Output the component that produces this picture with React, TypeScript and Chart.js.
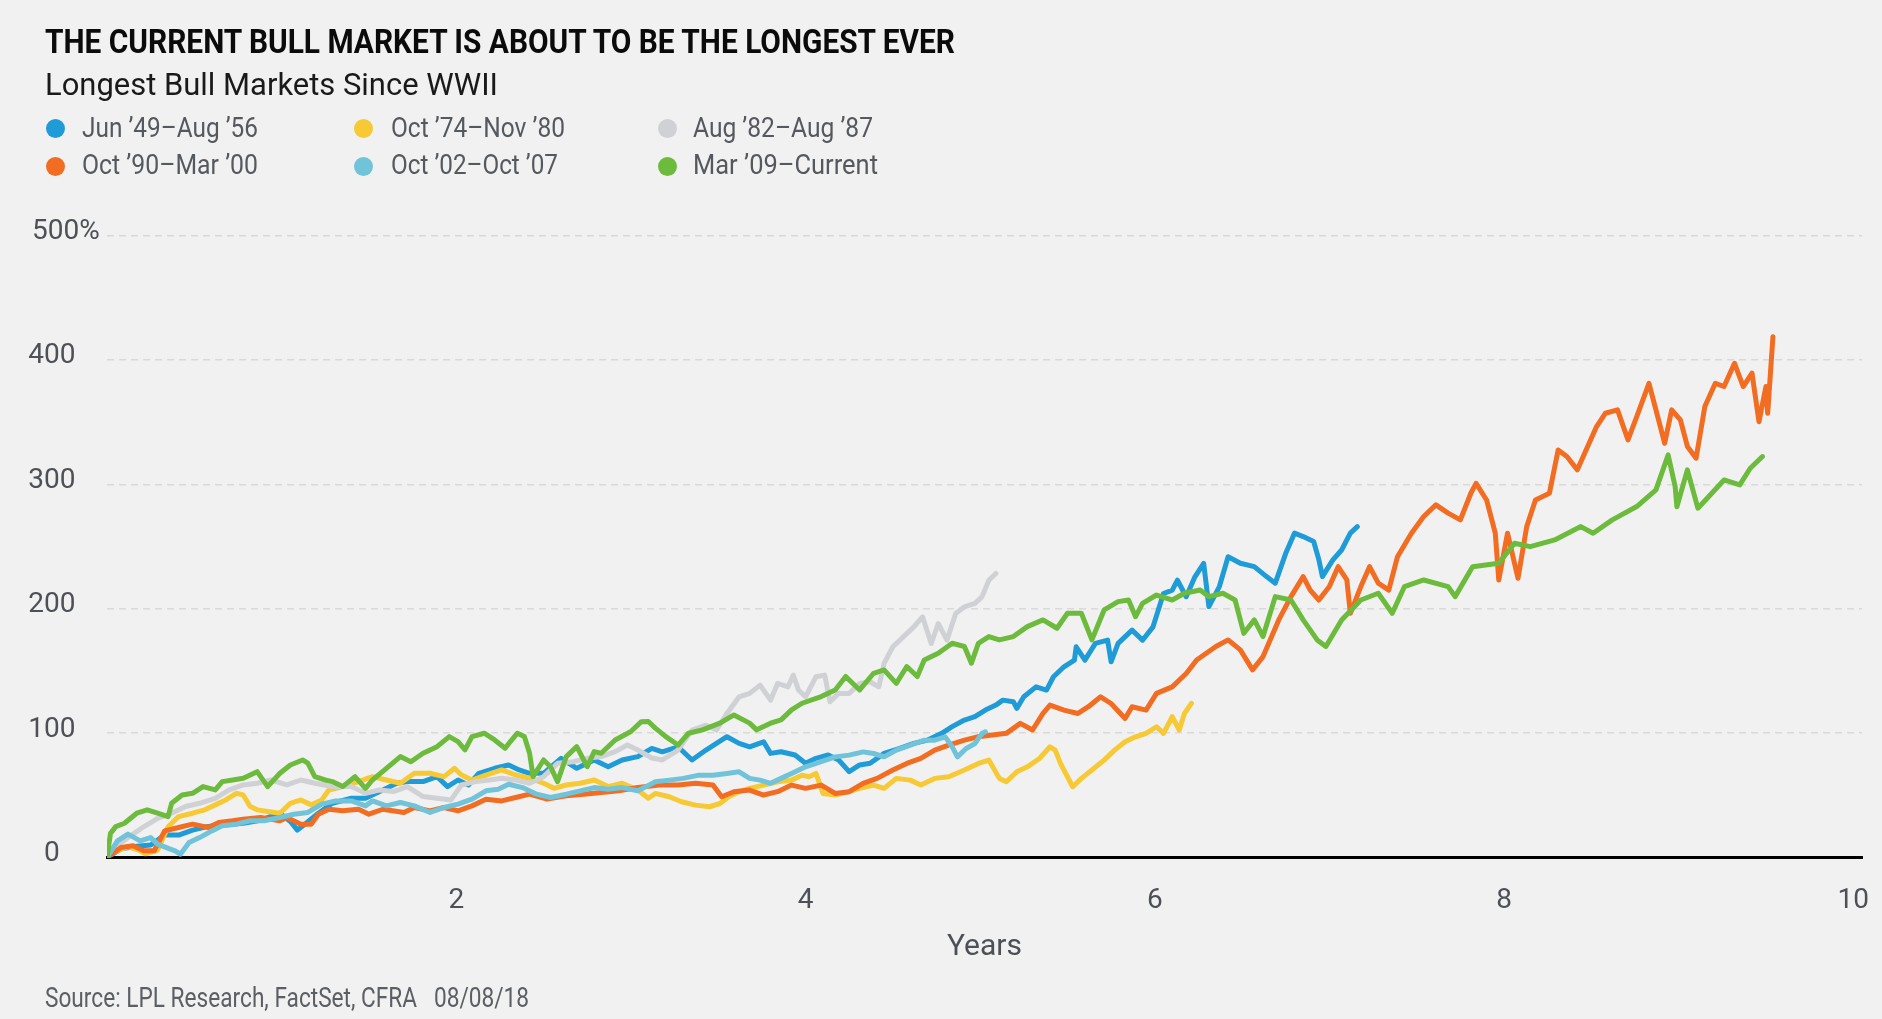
import React, { useEffect, useLayoutEffect, useRef } from 'react';
import { Chart, registerables } from 'chart.js';

Chart.register(...registerables);

// ---------------- DATA ----------------
const seriesNames = [
  'Jun ’49–Aug ’56',
  'Oct ’74–Nov ’80',
  'Aug ’82–Aug ’87',
  'Oct ’90–Mar ’00',
  'Oct ’02–Oct ’07',
  'Mar ’09–Current',
];

// [years since start, cumulative gain %]
const jun49Aug56: [number, number][] = [
  [0, 0], [0.08, 7], [0.17, 9], [0.25, 10], [0.33, 18], [0.41, 18], [0.49, 22], [0.58, 25], [0.66, 26],
  [0.78, 27.5], [0.88, 30], [0.99, 35.6], [1.05, 29], [1.09, 22], [1.14, 27.5], [1.21, 35.6], [1.29, 43.6],
  [1.4, 47.6], [1.48, 47.6], [1.58, 54.3], [1.66, 59.7], [1.72, 61], [1.81, 61], [1.89, 65], [1.95, 57],
  [2.01, 62.3], [2.07, 58.3], [2.13, 67.7], [2.22, 71.7], [2.3, 74.4], [2.36, 70.4], [2.42, 67.7], [2.5, 67.7],
  [2.6, 79.7], [2.69, 71.7], [2.79, 78.4], [2.87, 73], [2.95, 78.4], [3.04, 81.1], [3.12, 87.7], [3.18, 85],
  [3.27, 89], [3.35, 78.4], [3.43, 86.4], [3.49, 91.7], [3.55, 97.1], [3.62, 91.7], [3.68, 89], [3.76, 93],
  [3.8, 83.7], [3.86, 85], [3.94, 82.4], [4.0, 75.7], [4.06, 79.7], [4.13, 82.4], [4.19, 78.4], [4.25, 69],
  [4.31, 74.4], [4.37, 75.7], [4.45, 83.7], [4.54, 87.7], [4.62, 91.7], [4.7, 94.4], [4.78, 99.8], [4.84, 105.2],
  [4.91, 110.5], [4.97, 113.2], [5.03, 118.5], [5.09, 122.5], [5.13, 126.5], [5.19, 125.2], [5.21, 119.9],
  [5.25, 129.2], [5.32, 137.2], [5.38, 134.6], [5.42, 145.3], [5.48, 153.3], [5.54, 158.7], [5.55, 169.4],
  [5.6, 158.7], [5.66, 172.1], [5.73, 174.7], [5.75, 157.3], [5.79, 172.1], [5.87, 182.8], [5.93, 174.7],
  [5.99, 185.4], [6.05, 212.2], [6.1, 214.9], [6.13, 222.9], [6.18, 209.6], [6.23, 225.6], [6.28, 236.5],
  [6.31, 201.7], [6.37, 217.8], [6.42, 241.8], [6.49, 236.5], [6.57, 233.8], [6.64, 225.8], [6.69, 220.5],
  [6.75, 244.5], [6.8, 260.7], [6.85, 258], [6.91, 254], [6.94, 239.2], [6.96, 225.8], [7.02, 239.2],
  [7.07, 247.2], [7.12, 260.7], [7.16, 266],
];

const oct74Nov80: [number, number][] = [
  [0, 0], [0.02, 3], [0.12, 8.7], [0.18, 6], [0.22, 3], [0.29, 6], [0.35, 24.7], [0.41, 32.9], [0.49, 35.6],
  [0.56, 38.3], [0.62, 42.3], [0.68, 46.3], [0.74, 51.6], [0.78, 50.3], [0.82, 41], [0.86, 38.3], [0.92, 37],
  [0.99, 35.6], [1.05, 43.6], [1.11, 46.3], [1.17, 42.3], [1.23, 46.3], [1.27, 54.3], [1.35, 57], [1.44, 61],
  [1.52, 65], [1.6, 62.3], [1.68, 59.7], [1.76, 67.7], [1.85, 67.7], [1.93, 65], [1.99, 71.7], [2.03, 66.3],
  [2.09, 62.3], [2.17, 66.3], [2.26, 70.4], [2.34, 66.3], [2.42, 63.7], [2.5, 59.7], [2.56, 55.6], [2.63, 58.3],
  [2.71, 59.7], [2.79, 62.3], [2.87, 57], [2.95, 59.7], [3.04, 54.3], [3.1, 47.6], [3.14, 51.5], [3.22, 48.8],
  [3.29, 44.8], [3.37, 42.1], [3.45, 40.8], [3.51, 43.4], [3.56, 48.8], [3.62, 52.9], [3.68, 55.6], [3.76, 58.2],
  [3.84, 60.9], [3.92, 62.2], [3.98, 66.2], [4.02, 64.9], [4.06, 67.6], [4.1, 51.5], [4.17, 50.2], [4.25, 52.9],
  [4.31, 55.6], [4.39, 58.2], [4.45, 55.6], [4.52, 63.6], [4.6, 62.2], [4.66, 58.2], [4.74, 63.6], [4.82, 64.9],
  [4.91, 70.3], [4.99, 75.6], [5.05, 78.3], [5.11, 63.6], [5.15, 60.9], [5.21, 68.9], [5.27, 72.9], [5.34, 79.6],
  [5.4, 89], [5.43, 86.3], [5.46, 75.6], [5.5, 64.9], [5.53, 56.9], [5.58, 63.6], [5.64, 70.3], [5.71, 78.3],
  [5.77, 86.3], [5.83, 93], [5.89, 97], [5.95, 99.8], [6.01, 105.1], [6.05, 99.8], [6.1, 113.2], [6.14, 102.5],
  [6.17, 115.8], [6.21, 123.9],
];

const aug82Aug87: [number, number][] = [
  [0, 0], [0.04, 8], [0.12, 16], [0.21, 24.7], [0.29, 31.5], [0.37, 35.6], [0.45, 41], [0.53, 43.6], [0.62, 47.6],
  [0.7, 54.3], [0.78, 58.3], [0.86, 59.7], [0.94, 62.3], [1.03, 58.3], [1.11, 62.3], [1.19, 59.7], [1.29, 57],
  [1.4, 57], [1.48, 51.6], [1.56, 54.3], [1.64, 53], [1.72, 57], [1.81, 49], [1.89, 47.6], [1.97, 46.3],
  [2.03, 58.3], [2.11, 61], [2.19, 62.3], [2.26, 63.7], [2.34, 62.3], [2.42, 59.7], [2.5, 65], [2.58, 75.7],
  [2.67, 77], [2.75, 79.7], [2.83, 81.1], [2.91, 85.1], [2.98, 90.4], [3.04, 86.4], [3.12, 80], [3.18, 78.4],
  [3.27, 86.4], [3.35, 102.4], [3.43, 106.4], [3.49, 102.4], [3.55, 115.8], [3.62, 129.2], [3.68, 131.9],
  [3.74, 138.6], [3.8, 126.5], [3.84, 139.9], [3.9, 137.2], [3.93, 146.6], [3.96, 134.6], [4.0, 129.2],
  [4.06, 145.3], [4.11, 146.6], [4.14, 125.2], [4.19, 131.9], [4.25, 131.9], [4.31, 139.9], [4.37, 141.3],
  [4.42, 137.2], [4.45, 156], [4.5, 169.4], [4.56, 177.4], [4.62, 185.4], [4.67, 193.5], [4.72, 172],
  [4.76, 188.1], [4.81, 174.7], [4.86, 196.1], [4.91, 201.5], [4.97, 204.2], [5.01, 209.5], [5.05, 222.9],
  [5.09, 228.3],
];

const oct90Mar00: [number, number][] = [
  [0, 0], [0.04, 4], [0.08, 8], [0.15, 9.4], [0.21, 5.4], [0.27, 5.4], [0.31, 16], [0.33, 21.4], [0.41, 24.1],
  [0.49, 26.8], [0.58, 24.1], [0.64, 28.1], [0.72, 29.5], [0.78, 30.8], [0.88, 32.2], [0.99, 29.5], [1.03, 32.2],
  [1.11, 26.8], [1.17, 26.8], [1.21, 34.8], [1.27, 38.8], [1.35, 37.5], [1.44, 38.8], [1.5, 34.8], [1.58, 38.8],
  [1.7, 36.2], [1.76, 40.2], [1.85, 37.5], [1.93, 40.2], [2.01, 37.5], [2.09, 41.5], [2.17, 46.9], [2.26, 45.5],
  [2.34, 48.2], [2.42, 50.9], [2.52, 46.9], [2.63, 49.6], [2.73, 50.9], [2.83, 52.2], [2.93, 53.6], [3.04, 56.2],
  [3.16, 58.2], [3.27, 58.2], [3.37, 59.6], [3.47, 58.2], [3.52, 48.8], [3.59, 52.9], [3.68, 54.2], [3.76, 50.2],
  [3.84, 52.9], [3.92, 58.2], [4.0, 55.6], [4.09, 58.2], [4.17, 51.5], [4.25, 52.9], [4.33, 59.6], [4.41, 63.6],
  [4.5, 70.3], [4.58, 75.6], [4.66, 79.6], [4.74, 86.3], [4.82, 90.4], [4.91, 94.4], [4.99, 97.1], [5.07, 98.4],
  [5.15, 99.8], [5.23, 107.8], [5.3, 102.5], [5.36, 115.8], [5.4, 122.5], [5.48, 118.5], [5.56, 115.8],
  [5.62, 121.2], [5.69, 129.2], [5.75, 123.8], [5.83, 111.8], [5.87, 121.2], [5.95, 118.5], [6.01, 131.9],
  [6.1, 137.2], [6.18, 147.9], [6.24, 158.8], [6.35, 169.6], [6.42, 174.9], [6.49, 166.9], [6.56, 150.8],
  [6.62, 161.5], [6.71, 191], [6.78, 209.7], [6.85, 225.8], [6.89, 215], [6.94, 207], [7.0, 217.8], [7.05, 233.8],
  [7.1, 223.1], [7.12, 196.3], [7.18, 217.8], [7.23, 233.8], [7.28, 220.5], [7.34, 215], [7.39, 241.8],
  [7.47, 260.7], [7.54, 274.1], [7.61, 283.5], [7.68, 276.8], [7.75, 271.4], [7.81, 292.8], [7.84, 300.8],
  [7.9, 287.4], [7.95, 260.7], [7.97, 223.1], [8.02, 260.7], [8.08, 224.5], [8.13, 266], [8.18, 287.4],
  [8.26, 292.8], [8.31, 327.6], [8.36, 322.3], [8.42, 311.6], [8.47, 327.6], [8.53, 346.4], [8.58, 357.1],
  [8.65, 359.8], [8.71, 335.7], [8.76, 354.4], [8.83, 381.2], [8.87, 359.8], [8.92, 333], [8.96, 359.8],
  [9.01, 351.7], [9.05, 330.4], [9.1, 321], [9.15, 362.5], [9.21, 381.2], [9.26, 378.6], [9.32, 397.3],
  [9.37, 378.6], [9.42, 389.3], [9.46, 350.3], [9.5, 378.6], [9.51, 357.1], [9.54, 418.7],
];

const oct02Oct07: [number, number][] = [
  [0, 0], [0.06, 13.4], [0.12, 18.8], [0.19, 13.4], [0.25, 16], [0.29, 10.7], [0.34, 8], [0.39, 5.4], [0.42, 2.7],
  [0.47, 12.1], [0.53, 16], [0.6, 21.4], [0.66, 25.5], [0.74, 26.8], [0.82, 29.5], [0.9, 29.5], [0.99, 32.2],
  [1.07, 34.8], [1.15, 36.2], [1.23, 42.9], [1.31, 45.5], [1.4, 45.5], [1.48, 41.5], [1.52, 45.5], [1.6, 41.5],
  [1.68, 44.2], [1.76, 41.5], [1.85, 36.2], [1.93, 40.2], [2.01, 42.9], [2.09, 46.9], [2.17, 53.6], [2.24, 54.9],
  [2.3, 58.9], [2.38, 56.2], [2.46, 50.9], [2.54, 48.2], [2.63, 50.9], [2.71, 53.6], [2.79, 56.2], [2.87, 54.9],
  [2.95, 56.2], [3.04, 53.6], [3.1, 58], [3.14, 60.9], [3.22, 62.2], [3.3, 63.6], [3.39, 66.2], [3.47, 66.2],
  [3.55, 67.6], [3.62, 68.9], [3.68, 63.6], [3.74, 62.2], [3.8, 59.6], [3.86, 63.6], [3.92, 67.6], [4.0, 72.9],
  [4.09, 77], [4.17, 80.9], [4.25, 82.3], [4.33, 84.9], [4.39, 83.6], [4.45, 80.9], [4.52, 86.3], [4.6, 90.3],
  [4.68, 94.3], [4.74, 94.3], [4.8, 97], [4.84, 89], [4.87, 80.9], [4.92, 87.6], [4.97, 91.6], [5.01, 99.6],
  [5.03, 101],
];

const mar09Current: [number, number][] = [
  [0, 0], [0.02, 19.4], [0.05, 24.8], [0.1, 27.5], [0.17, 35.6], [0.23, 38.3], [0.29, 35.6], [0.35, 32.9],
  [0.37, 43.6], [0.43, 50.3], [0.49, 51.6], [0.55, 57], [0.62, 54.3], [0.66, 61], [0.72, 62.3], [0.78, 63.7],
  [0.86, 69], [0.92, 57], [0.99, 67.7], [1.05, 74.4], [1.12, 78.4], [1.15, 75.8], [1.19, 65], [1.25, 62.3],
  [1.29, 61], [1.35, 57], [1.42, 65], [1.48, 55.6], [1.52, 62.3], [1.6, 71.7], [1.68, 81.1], [1.74, 77],
  [1.81, 83.8], [1.89, 89.1], [1.96, 97.2], [2.01, 93.2], [2.05, 86.5], [2.09, 97.2], [2.16, 99.9], [2.22, 94.5],
  [2.28, 87.8], [2.31, 93.2], [2.35, 99.9], [2.39, 97.2], [2.42, 83.8], [2.44, 65], [2.5, 78.4], [2.54, 73],
  [2.58, 61], [2.63, 81.1], [2.69, 89.1], [2.75, 73], [2.79, 85.1], [2.83, 83.8], [2.91, 94.5], [3.0, 101.3],
  [3.06, 109.2], [3.1, 109.3], [3.14, 104], [3.2, 97.2], [3.27, 90.4], [3.33, 99.9], [3.41, 102.6], [3.51, 108],
  [3.59, 114.6], [3.68, 108], [3.72, 102.6], [3.8, 108], [3.86, 110.6], [3.92, 118.7], [3.98, 124], [4.09, 129.4],
  [4.17, 134.7], [4.23, 145.5], [4.31, 134.7], [4.39, 148.1], [4.45, 150.8], [4.52, 140], [4.58, 153.5],
  [4.64, 145.5], [4.68, 158.8], [4.76, 164.2], [4.84, 172.2], [4.91, 169.6], [4.95, 156.2], [4.99, 172.2],
  [5.05, 177.6], [5.11, 174.9], [5.19, 177.6], [5.27, 185.6], [5.36, 191], [5.44, 184.3], [5.5, 196.3],
  [5.58, 196.3], [5.64, 174.9], [5.71, 199], [5.79, 205.7], [5.85, 207], [5.89, 193.6], [5.93, 204.3],
  [6.01, 211], [6.1, 207], [6.17, 212.4], [6.26, 215], [6.31, 209.7], [6.39, 212.4], [6.46, 207], [6.51, 180.2],
  [6.57, 191], [6.62, 177.6], [6.69, 209.7], [6.78, 207], [6.85, 191], [6.93, 174.9], [6.98, 169.6], [7.07, 191],
  [7.18, 207], [7.28, 212.4], [7.36, 196.3], [7.43, 217.8], [7.54, 223.1], [7.68, 217.8], [7.72, 209.7],
  [7.82, 233.8], [7.97, 236.5], [8.06, 252.6], [8.15, 249.9], [8.29, 255.3], [8.44, 266], [8.51, 260.7],
  [8.62, 271.4], [8.76, 282.1], [8.87, 295.5], [8.94, 323.6], [8.98, 298.2], [8.99, 282], [9.05, 311.6],
  [9.11, 280.8], [9.19, 292.8], [9.26, 303.5], [9.35, 299.5], [9.41, 312.9], [9.48, 322.3],
];

const xTickValues = [2, 4, 6, 8, 10];
const yTickValues = [0, 100, 200, 300, 400, 500];

// ---------------- STYLE / LAYOUT ----------------
const W = 1882;
const H = 1019;
const BG = '#f1f1f1';
const FONT = 'Roboto, "Noto Sans", "DejaVu Sans", sans-serif';
const AXIS_TEXT = '#4d5156';
const seriesColors = ['#1f9bd7', '#f6c935', '#cfd1d4', '#f26c22', '#71c3d9', '#6cbb3d'];
const seriesOrder = [5, 4, 3, 2, 1, 0]; // later markets drawn on top

const legendLayout = [
  { dotX: 55, textX: 82, row: 0, width: 176 },
  { dotX: 363, textX: 391, row: 0, width: 174 },
  { dotX: 667, textX: 693, row: 0, width: 180 },
  { dotX: 55, textX: 82, row: 1, width: 176 },
  { dotX: 363, textX: 391, row: 1, width: 167 },
  { dotX: 667, textX: 693, row: 1, width: 185 },
];
const legendRowDotY = [128.3, 166];
const legendRowBaseline = [137.7, 174.3];

type FitProps = {
  text: string;
  x: number;
  baseline: number;
  width: number;
  size: number;
  weight?: number;
  color: string;
};

function FitText({ text, x, baseline, width, size, weight = 400, color }: FitProps) {
  const ref = useRef<HTMLSpanElement>(null);
  useLayoutEffect(() => {
    const measure = () => {
      const el = ref.current;
      if (!el) return;
      el.style.transform = 'none';
      const natural = el.getBoundingClientRect().width;
      if (natural > 0) el.style.transform = `scaleX(${width / natural})`;
    };
    measure();
    const fonts = (document as any).fonts;
    if (fonts && fonts.ready) fonts.ready.then(measure);
  }, [text, width, size, weight]);
  return (
    <span
      ref={ref}
      style={{
        position: 'absolute',
        left: x,
        top: baseline - 0.842 * size,
        fontFamily: FONT,
        fontSize: size,
        fontWeight: weight,
        color,
        lineHeight: `${size}px`,
        whiteSpace: 'pre',
        transformOrigin: '0 0',
        display: 'inline-block',
      }}
    >
      {text}
    </span>
  );
}

export default function App() {
  const canvasRef = useRef<HTMLCanvasElement>(null);

  useEffect(() => {
    const canvas = canvasRef.current;
    if (!canvas) return;
    const allSeries = [jun49Aug56, oct74Nov80, aug82Aug87, oct90Mar00, oct02Oct07, mar09Current];
    const datasets = allSeries.map((pts, i) => ({
      label: seriesNames[i],
      data: pts.map(([x, y]) => ({ x, y })),
      borderColor: seriesColors[i],
      backgroundColor: seriesColors[i],
      borderWidth: 5,
      pointRadius: 0,
      pointHoverRadius: 0,
      tension: 0,
      fill: false,
      order: seriesOrder[i],
      borderJoinStyle: 'round' as const,
      borderCapStyle: 'round' as const,
    }));

    const chart = new Chart(canvas, {
      type: 'line',
      data: { datasets },
      options: {
        animation: false,
        responsive: false,
        events: [],
        layout: { padding: { left: 0, top: 235.5, right: 20, bottom: 0 } },
        plugins: {
          legend: { display: false },
          tooltip: { enabled: false },
          title: { display: false },
        },
        scales: {
          x: {
            type: 'linear',
            min: 0,
            max: 10.05,
            afterBuildTicks: (s: any) => {
              s.ticks = xTickValues.map((v) => ({ value: v }));
            },
            afterFit: (s: any) => {
              s.height = 161.5;
              s.paddingLeft = 0;
              s.paddingRight = 0;
            },
            grid: { display: false, drawTicks: false },
            border: { display: true, color: '#000000', width: 3 },
            ticks: {
              font: { family: FONT, size: 28 },
              color: AXIS_TEXT,
              padding: 26.5,
              maxRotation: 0,
              autoSkip: false,
              callback: (v: any) => String(v),
            },
            title: {
              display: true,
              text: 'Years',
              font: { family: FONT, size: 30 },
              color: AXIS_TEXT,
              padding: { top: 0, bottom: 53.5 },
            },
          },
          y: {
            type: 'linear',
            min: 0,
            max: 500,
            afterBuildTicks: (s: any) => {
              s.ticks = yTickValues.map((v) => ({ value: v }));
            },
            afterFit: (s: any) => {
              s.width = 107;
            },
            grid: {
              drawTicks: false,
              lineWidth: 1.5,
              color: (ctx: any) => (ctx.tick && ctx.tick.value === 0 ? 'rgba(0,0,0,0)' : '#d9d9d9'),
            },
            border: { display: false, dash: [7, 5] },
            ticks: {
              font: { family: FONT, size: 28 },
              color: AXIS_TEXT,
              padding: 7.3,
              crossAlign: 'center',
              labelOffset: -3.5,
              autoSkip: false,
              // leading spaces keep "500" aligned with the other numbers while "%" hangs to the right
              callback: (v: any) => (v === 500 ? '    500%' : String(v)),
            },
          },
        },
      },
    });
    return () => chart.destroy();
  }, []);

  return (
    <div
      style={{
        position: 'fixed',
        left: 0,
        top: 0,
        width: W,
        height: H,
        background: BG,
        overflow: 'hidden',
      }}
    >
      <canvas
        ref={canvasRef}
        width={W}
        height={H}
        style={{ position: 'absolute', left: 0, top: 0, width: W, height: H }}
      />
      <FitText
        text="THE CURRENT BULL MARKET IS ABOUT TO BE THE LONGEST EVER"
        x={45}
        baseline={52.3}
        width={910}
        size={34}
        weight={700}
        color="#0b0b0b"
      />
      <FitText text="Longest Bull Markets Since WWII" x={45} baseline={95} width={453} size={31} color="#1a1a1a" />
      {legendLayout.map((lay, si) => (
        <React.Fragment key={si}>
          <div
            style={{
              position: 'absolute',
              left: lay.dotX - 9.5,
              top: legendRowDotY[lay.row] - 9.5,
              width: 19,
              height: 19,
              borderRadius: '50%',
              background: seriesColors[si],
            }}
          />
          <FitText
            text={seriesNames[si]}
            x={lay.textX}
            baseline={legendRowBaseline[lay.row]}
            width={lay.width}
            size={28}
            color="#55595e"
          />
        </React.Fragment>
      ))}
      <FitText
        text="Source: LPL Research, FactSet, CFRA   08/08/18"
        x={45}
        baseline={1008}
        width={484}
        size={28}
        color="#5b5f64"
      />
    </div>
  );
}
